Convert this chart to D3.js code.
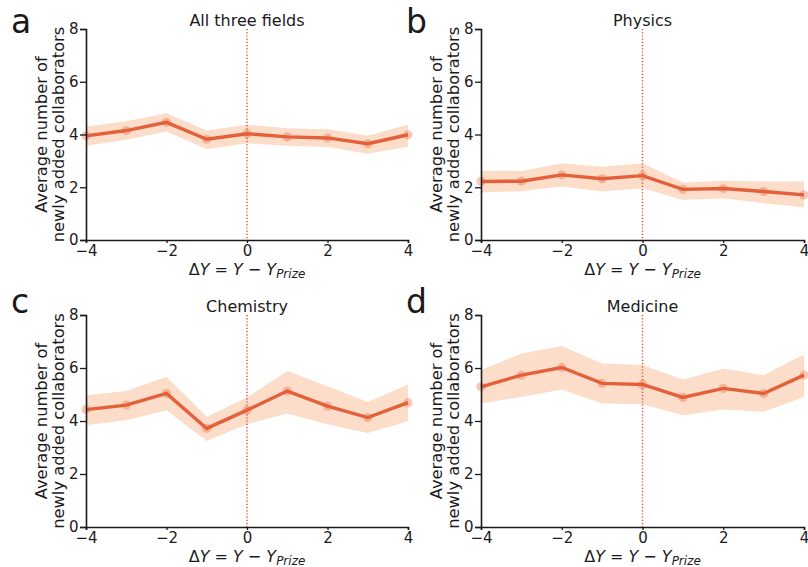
<!DOCTYPE html>
<html><head><meta charset="utf-8">
<script src="https://cdn.jsdelivr.net/npm/d3@7"></script>
<style>body{margin:0;background:#fff}svg{display:block}text{font-family:"DejaVu Sans",sans-serif;fill:#1a1a1a}</style>
</head><body>
<svg id="c" width="808" height="567"></svg>
<script>
const xValues = [-4,-3,-2,-1,0,1,2,3,4];
const panelLetters = ["a","b","c","d"];
const panelTitles = ["All three fields","Physics","Chemistry","Medicine"];
const meanAll  = [3.95,4.15,4.46,3.82,4.03,3.91,3.87,3.65,3.99];
const lowAll   = [3.57,3.80,4.11,3.44,3.67,3.57,3.53,3.27,3.54];
const highAll  = [4.30,4.50,4.81,4.15,4.37,4.24,4.20,3.95,4.37];
const meanPhys = [2.22,2.23,2.47,2.32,2.44,1.92,1.95,1.84,1.71];
const lowPhys  = [1.80,1.85,2.03,1.84,1.96,1.52,1.58,1.39,1.24];
const highPhys = [2.63,2.62,2.91,2.78,2.91,2.18,2.25,2.22,2.22];
const meanChem = [4.43,4.60,5.04,3.72,4.41,5.13,4.56,4.13,4.69];
const lowChem  = [3.84,4.03,4.41,3.25,3.88,4.28,3.88,3.55,3.99];
const highChem = [4.97,5.13,5.67,4.16,4.89,5.89,5.31,4.72,5.38];
const meanMed  = [5.29,5.73,6.02,5.42,5.38,4.89,5.23,5.04,5.73];
const lowMed   = [4.66,4.91,5.19,4.66,4.63,4.22,4.43,4.35,4.91];
const highMed  = [5.92,6.55,6.83,6.17,6.11,5.57,5.98,5.73,6.52];
const xTicks = [-4,-2,0,2,4];
const yTicks = [0,2,4,6,8];
const yLabelLines = ["Average number of","newly added collaborators"];

const series = [[meanAll,lowAll,highAll],[meanPhys,lowPhys,highPhys],[meanChem,lowChem,highChem],[meanMed,lowMed,highMed]];
const boxes = [[86,408,29,240],[481,804,29,240],[86,408,315,527],[481,804,315,527]];
const letterBase = [33,33,313,313];
const lineColor = "#e4603a", bandColor = "#fbd7c0";
const svg = d3.select("#c");
const FS = 16, TFS = 15;

series.forEach((s,i)=>{
  const [x0,x1,y0,y1] = boxes[i];
  const x = d3.scaleLinear().domain([-4,4]).range([x0,x1]);
  const y = d3.scaleLinear().domain([0,8]).range([y1,y0]);
  const g = svg.append("g");
  const pts = xValues.map((v,j)=>({x:v,m:s[0][j],lo:s[1][j],hi:s[2][j]}));
  g.append("path").datum(pts).attr("fill",bandColor).attr("opacity",0.85)
    .attr("d",d3.area().x(d=>x(d.x)).y0(d=>y(d.lo)).y1(d=>y(d.hi)));
  g.append("line").attr("x1",x(0)).attr("x2",x(0)).attr("y1",y(8)).attr("y2",y(0))
    .attr("stroke","#e0552f").attr("stroke-width",1.5).attr("stroke-dasharray","1.2,2");
  g.append("path").datum(pts).attr("fill","none").attr("stroke",lineColor).attr("stroke-width",3.4)
    .attr("d",d3.line().x(d=>x(d.x)).y(d=>y(d.m)));
  g.selectAll("circle").data(pts).join("circle").attr("cx",d=>x(d.x)).attr("cy",d=>y(d.m)).attr("r",4.6)
    .attr("fill",lineColor).attr("opacity",0.35);
  const xa = g.append("g").attr("transform",`translate(0,${y1})`)
    .call(d3.axisBottom(x).tickValues(xTicks).tickSize(3).tickPadding(2.5).tickFormat(d=>d<0?"\u2212"+(-d):d));
  const ya = g.append("g").attr("transform",`translate(${x0},0)`)
    .call(d3.axisLeft(y).tickValues(yTicks).tickSize(6).tickPadding(1.5));
  [xa,ya].forEach(a=>{
    a.select(".domain").attr("stroke","#1a1a1a").attr("stroke-width",1.6);
    a.selectAll(".tick line").attr("stroke","#1a1a1a").attr("stroke-width",1.3);
    a.selectAll(".tick text").attr("font-size",TFS).attr("font-family","DejaVu Sans").attr("fill","#1a1a1a");
  });
  g.append("text").attr("x",(x0+x1)/2).attr("y",y0-3).attr("text-anchor","middle").attr("font-size",FS).text(panelTitles[i]);
  g.append("text").attr("x",x0-75).attr("y",letterBase[i]).attr("font-size",33).text(panelLetters[i]);
  const yl = g.append("text").attr("transform",`translate(${x0-39},${(y0+y1)/2}) rotate(-90)`)
    .attr("text-anchor","middle").attr("font-size",FS+0.3);
  yl.append("tspan").attr("x",0).attr("dy",0).text(yLabelLines[0]);
  yl.append("tspan").attr("x",0).attr("dy",17).text(yLabelLines[1]);
  const xl = g.append("text").attr("x",(x0+x1)/2).attr("y",y1+34.5).attr("text-anchor","middle").attr("font-size",FS);
  xl.append("tspan").text("\u0394");
  xl.append("tspan").attr("font-style","italic").text("Y");
  xl.append("tspan").text(" = ");
  xl.append("tspan").attr("font-style","italic").text("Y");
  xl.append("tspan").text(" \u2212 ");
  xl.append("tspan").attr("font-style","italic").text("Y");
  xl.append("tspan").attr("font-style","italic").attr("font-size",12).attr("dy",3.5).text("Prize");
});
</script>
</body></html>
